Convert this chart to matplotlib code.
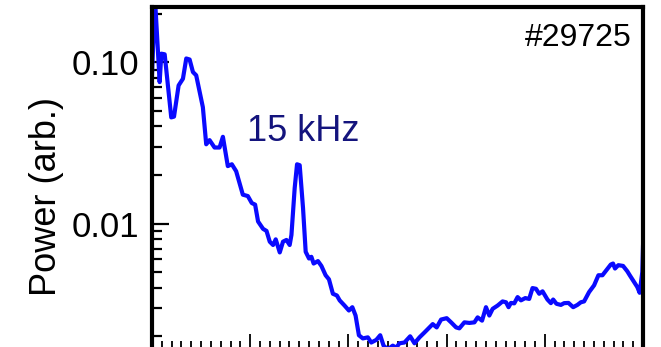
import matplotlib
matplotlib.use("Agg")
import matplotlib.pyplot as plt
from matplotlib.ticker import LogLocator, MultipleLocator, NullFormatter, FixedLocator, FixedFormatter

plt.rcParams['font.family'] = ['Liberation Sans', 'DejaVu Sans']

freq_khz = [
    0.0, 0.3, 0.78, 0.95, 1.29, 1.96, 2.24, 2.71, 3.15, 3.49, 3.83, 4.17, 4.50,
    5.18, 5.52, 5.86, 6.37, 6.88, 7.22, 7.72, 8.13, 8.57, 9.25, 9.76, 10.16,
    10.50, 10.80, 11.31, 11.66, 11.99, 12.33, 12.60, 13.01, 13.34, 13.69, 14.02,
    14.20, 14.53, 14.77, 15.04, 15.38, 15.65, 15.99, 16.23, 16.46, 16.90, 17.25,
    17.68, 18.02, 18.42, 18.83, 19.11, 19.61, 20.05, 20.40, 20.73, 21.07, 21.47,
    21.98, 22.33, 22.84, 23.24, 23.58, 24.01, 24.52, 24.87, 25.20, 25.71, 26.29,
    26.73, 27.24, 27.74, 28.25, 28.59, 28.99, 29.44, 30.01, 30.46, 30.97, 31.30,
    31.81, 32.32, 32.83, 33.16, 33.61, 34.01, 34.35, 34.69, 35.19, 35.70, 36.05,
    36.31, 36.55, 36.89, 37.23, 37.57, 38.01, 38.41, 38.75, 39.10, 39.43, 39.77,
    40.27, 40.62, 40.85, 41.19, 41.64, 41.97, 42.41, 42.89, 43.32, 43.67, 44.00,
    44.51, 45.02, 45.46, 45.87, 46.27, 46.72, 46.95, 47.15, 47.49, 47.97, 48.40,
    48.65, 48.98, 49.42, 49.66, 49.93, 50.0,
]
power = [
    0.083, 0.25, 0.0753, 0.113, 0.112, 0.0455, 0.046, 0.0718, 0.079, 0.1055,
    0.104, 0.0869, 0.083, 0.0526, 0.031, 0.0329, 0.0296, 0.0296, 0.0345, 0.0227,
    0.0233, 0.0211, 0.0151, 0.0148, 0.0134, 0.0131, 0.0103, 0.00927, 0.0090,
    0.00772, 0.00736, 0.00798, 0.00662, 0.00772, 0.00791, 0.00736, 0.0085,
    0.0166, 0.0233, 0.0230, 0.01246, 0.00668, 0.00607, 0.00622, 0.00565,
    0.00585, 0.00546, 0.00478, 0.00451, 0.00367, 0.00358, 0.00334, 0.0031,
    0.00289, 0.00303, 0.00269, 0.00203, 0.00194, 0.00197, 0.00183, 0.0019,
    0.00203, 0.00175, 0.00166, 0.00175, 0.0017, 0.00181, 0.00183, 0.002,
    0.00181, 0.00197, 0.00211, 0.00227, 0.00238, 0.00227, 0.00254, 0.00259,
    0.00244, 0.00227, 0.00224, 0.00244, 0.00242, 0.00244, 0.00262, 0.0025,
    0.00303, 0.00269, 0.00296, 0.0031, 0.00329, 0.00325, 0.00303, 0.00322,
    0.0032, 0.0035, 0.00334, 0.00345, 0.00341, 0.00398, 0.00394, 0.00367,
    0.0038, 0.00338, 0.00321, 0.00338, 0.00318, 0.00313, 0.00321, 0.00322,
    0.00303, 0.00313, 0.00325, 0.00329, 0.00376, 0.00414, 0.00478, 0.00478,
    0.00514, 0.00557, 0.00565, 0.00526, 0.00552, 0.00546, 0.00506, 0.00478,
    0.00445, 0.00404, 0.00372, 0.00501, 0.00718,
]
ytick_vals = [0.01, 0.1]
ytick_labels = ["0.01", "0.10"]

W, H = 661, 347
fig = plt.figure(figsize=(W / 100, H / 100), dpi=100)
ax = fig.add_axes([152 / W, -1.5 / H, (643 - 152) / W, (347 + 1.5 - 7) / H])

ax.plot(freq_khz, power, color='#0a0aff', lw=3.0, solid_joinstyle='round')

ax.set_yscale('log')
ax.set_xlim(0, 50)
ax.set_ylim(0.00168, 0.22)

ax.yaxis.set_major_locator(FixedLocator(ytick_vals))
ax.yaxis.set_major_formatter(FixedFormatter(ytick_labels))
ax.yaxis.set_minor_locator(LogLocator(base=10, subs=range(2, 10)))
ax.yaxis.set_minor_formatter(NullFormatter())
ax.xaxis.set_major_locator(MultipleLocator(10))
ax.xaxis.set_minor_locator(MultipleLocator(1))
ax.set_xticklabels([])

ax.tick_params(axis='both', which='both', direction='in', colors='black')
ax.tick_params(axis='y', which='major', length=12, width=1.6, labelsize=25, pad=9)
ax.tick_params(axis='y', which='minor', length=7, width=1.6)
ax.tick_params(axis='x', which='major', length=11, width=1.3)
ax.tick_params(axis='x', which='minor', length=5.5, width=1.3)

for s in ax.spines.values():
    s.set_linewidth(3)

ax.set_ylabel('Power (arb.)', fontsize=26)
ax.yaxis.set_label_coords(-0.18, 0.445)

ax.text(15.35, 0.0326, '15 kHz', color='#14147d', fontsize=26, ha='center', va='baseline')
ax.text(0.9776, 0.885, '#29725', transform=ax.transAxes, color='black',
        fontsize=23, ha='right', va='baseline')

fig.savefig('out.png', dpi=100)
